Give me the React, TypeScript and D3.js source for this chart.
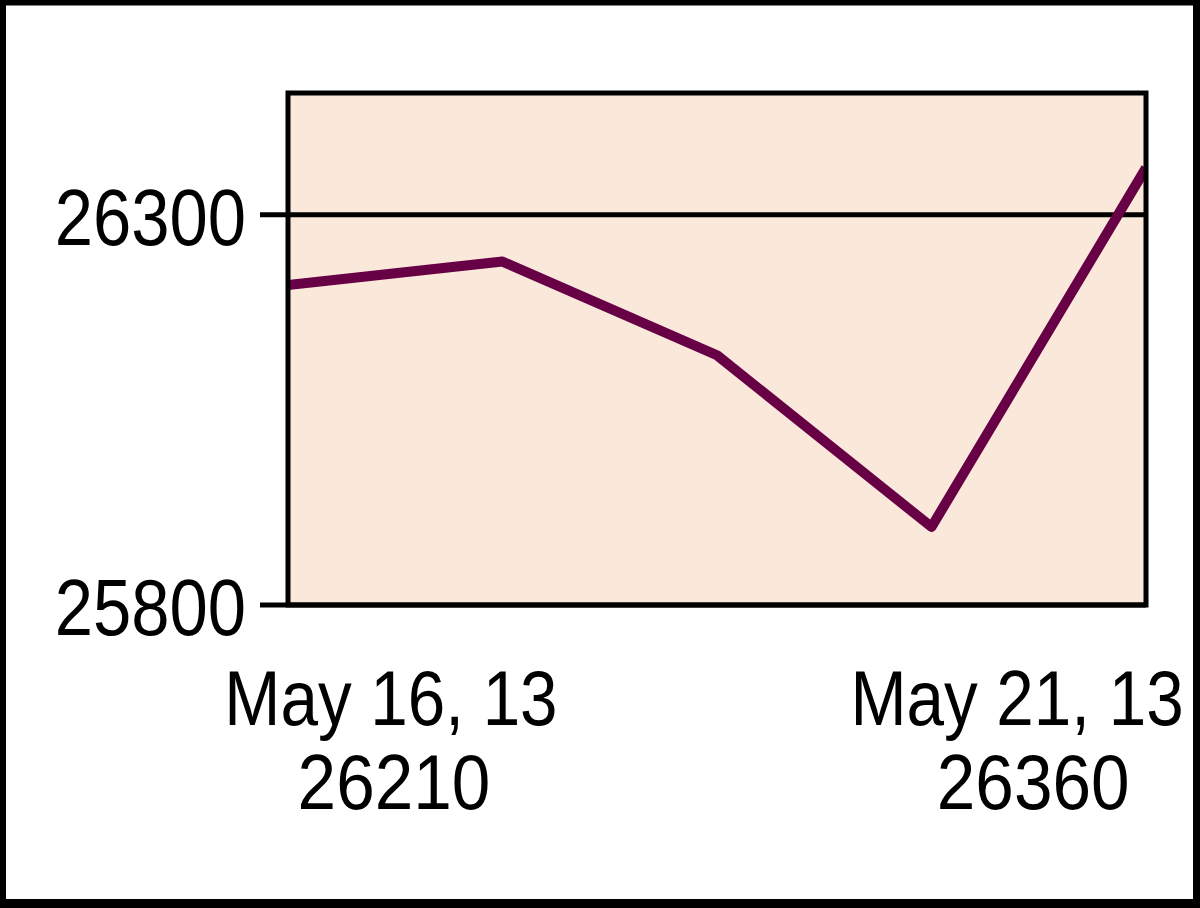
import React from "react";
import * as d3 from "d3";

const points = ["May 16", "May 17", "May 20", "May 21a", "May 21"];
const values = [26210, 26240, 26120, 25900, 26360];
const yTicks = [25800, 26300];
const xLabelDates = ["May 16, 13", "May 21, 13"];
const xLabelValues = ["26210", "26360"];
const xLabelPos = [0.48, 3.46];

const W = 1200;
const H = 908;
const plot = { left: 288, right: 1146, top: 93, bottom: 605 };

export default function App() {
  const x = d3.scaleLinear().domain([0, points.length - 1]).range([plot.left, plot.right]);
  const y = d3.scaleLinear().domain([25800, 26456]).range([plot.bottom, plot.top]);
  const line = d3
    .line<number>()
    .x((_, i) => x(i))
    .y((d) => y(d));
  const font = "'Liberation Sans', Arial, sans-serif";
  return (
    <svg
      width={W}
      height={H}
      style={{ position: "absolute", left: 0, top: 0, background: "#fff" }}
    >
      <defs>
        <clipPath id="plotclip">
          <rect x={plot.left} y={plot.top} width={plot.right - plot.left} height={plot.bottom - plot.top} />
        </clipPath>
      </defs>
      <rect
        x={plot.left}
        y={plot.top}
        width={plot.right - plot.left}
        height={plot.bottom - plot.top}
        fill="#FAE8DA"
      />
      {yTicks.map((t) => (
        <g key={t}>
          <line x1={260} x2={plot.right} y1={y(t)} y2={y(t)} stroke="#000" strokeWidth={5} />
          <text
            transform={`translate(246,${y(t) + 30}) scale(0.86,1)`}
            textAnchor="end"
            fontFamily={font}
            fontSize={80}
            fill="#000"
          >
            {t}
          </text>
        </g>
      ))}
      <path
        d={line(values) || ""}
        fill="none"
        stroke="#680046"
        strokeWidth={10}
        strokeLinejoin="round"
        clipPath="url(#plotclip)"
      />
      <rect
        x={plot.left}
        y={plot.top}
        width={plot.right - plot.left}
        height={plot.bottom - plot.top}
        fill="none"
        stroke="#000"
        strokeWidth={5}
      />
      {xLabelDates.map((lab, i) => (
        <g key={lab}>
          <text
            transform={`translate(${Math.min(x(xLabelPos[i]), 1017)},725) scale(0.875,1)`}
            textAnchor="middle"
            fontFamily={font}
            fontSize={77}
            fill="#000"
          >
            {lab}
          </text>
          <text
            transform={`translate(${x(xLabelPos[i]) + 3},809) scale(0.9,1)`}
            textAnchor="middle"
            fontFamily={font}
            fontSize={77}
            fill="#000"
          >
            {xLabelValues[i]}
          </text>
        </g>
      ))}
      <rect x={3} y={2.5} width={1193} height={900} fill="none" stroke="#000" strokeWidth={6} />
      <rect x={0} y={899} width={1200} height={9} fill="#000" />
      <rect x={1194} y={0} width={6} height={908} fill="#000" />
    </svg>
  );
}
